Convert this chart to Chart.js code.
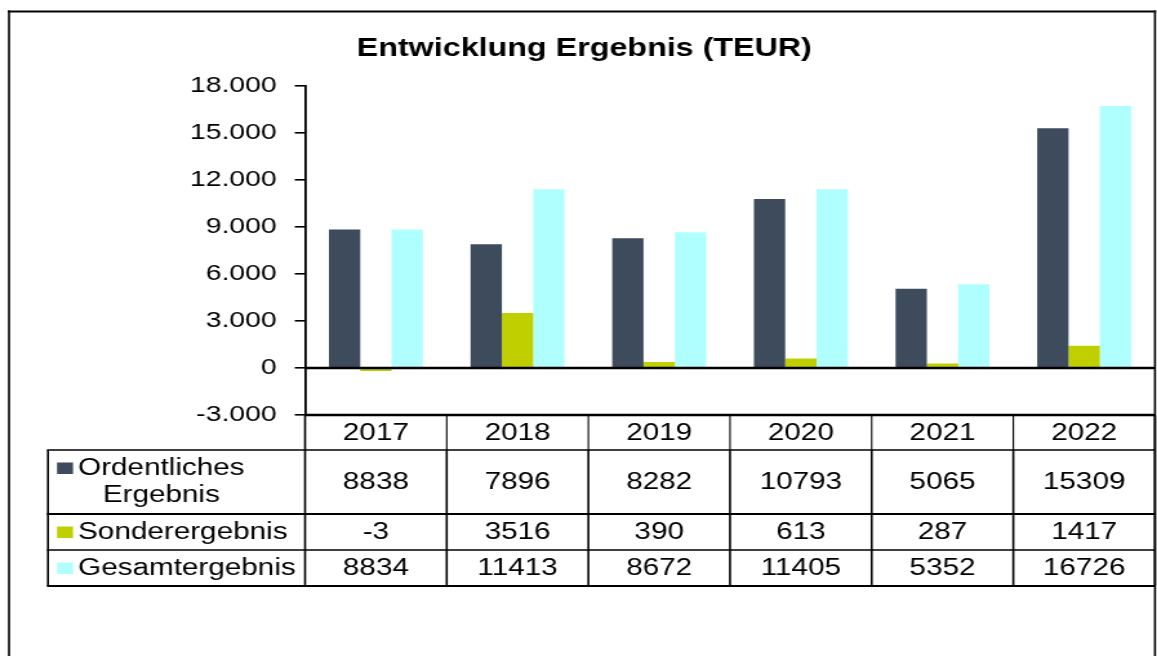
<!DOCTYPE html>
<html>
<head>
<meta charset="utf-8">
<script src="https://cdn.jsdelivr.net/npm/chart.js@4.4.1/dist/chart.umd.min.js"></script>
<style>
  html, body { margin: 0; padding: 0; background: #fff; overflow: hidden; }
  /* the reference is stretched horizontally, so the chart is drawn narrow and scaled */
  #wrap { width: 897px; height: 656px; transform: scaleX(1.2899); transform-origin: 0 0; }
</style>
</head>
<body>
<div id="wrap"><canvas id="ergebnisChart"></canvas></div>
<script>
const chartTitle = 'Entwicklung Ergebnis (TEUR)';
const years = ['2017', '2018', '2019', '2020', '2021', '2022'];
const ordentlich = [8838, 7896, 8282, 10793, 5065, 15309];
const sonder = [-3, 3516, 390, 613, 287, 1417];
const gesamt = [8834, 11413, 8672, 11405, 5352, 16726];
const seriesLabels = [['Ordentliches', 'Ergebnis'], ['Sonderergebnis'], ['Gesamtergebnis']];
const seriesColors = ['#3d4b5c', '#c0cf00', '#b0ffff'];
const yMin = -3000;
const yMax = 18000;
const yStep = 3000;

const FONT = "'Liberation Sans', Arial, sans-serif";

function formatDe(v) {
  const s = String(Math.abs(v)).replace(/\B(?=(\d{3})+(?!\d))/g, '.');
  return (v < 0 ? '-' : '') + s;
}

function hLine(ctx, x1, x2, y, w) {
  ctx.beginPath();
  ctx.lineWidth = w;
  ctx.moveTo(x1, y);
  ctx.lineTo(x2, y);
  ctx.stroke();
}

function vLine(ctx, x, y1, y2, w) {
  ctx.beginPath();
  ctx.lineWidth = w;
  ctx.moveTo(x, y1);
  ctx.lineTo(x, y2);
  ctx.stroke();
}

const frameAndTable = {
  id: 'frameAndTable',
  afterDraw(chart) {
    const ctx = chart.ctx;
    const area = chart.chartArea;
    const yScale = chart.scales.y;
    const colW = (area.right - area.left) / years.length;
    const labelLeft = 37.2;
    const rows = [area.bottom, area.bottom + 35, area.bottom + 99, area.bottom + 135, area.bottom + 171];
    const values = [ordentlich, sonder, gesamt];

    ctx.save();
    ctx.strokeStyle = '#000';

    // outer frame
    hLine(ctx, 6, area.right + 0.8, 11.5, 2);
    vLine(ctx, 7, 10.5, chart.height + 5, 1.6);
    vLine(ctx, area.right, 10.5, chart.height + 5, 1.6);

    // zero line and bottom of the plot
    hLine(ctx, area.left, area.right, yScale.getPixelForValue(0), 2.5);
    hLine(ctx, area.left, area.right, area.bottom, 2.5);

    // header row
    for (let i = 0; i <= years.length; i++) {
      const w = (i === 0 || i === years.length) ? 1.6 : 1.1;
      vLine(ctx, area.left + i * colW, area.bottom, rows[1], w);
    }
    hLine(ctx, labelLeft - 0.8, area.right, rows[1], 1.6);
    hLine(ctx, labelLeft - 0.8, area.right, rows[2], 2);
    hLine(ctx, labelLeft - 0.8, area.right, rows[3], 1.6);
    hLine(ctx, labelLeft - 0.8, area.right, rows[4], 2.2);
    vLine(ctx, labelLeft, rows[1], rows[4], 1.6);
    for (let i = 0; i <= years.length; i++) {
      vLine(ctx, area.left + i * colW, rows[1], rows[4], 1.6);
    }

    // title
    ctx.fillStyle = '#000';
    ctx.font = 'bold 25px ' + FONT;
    ctx.textAlign = 'center';
    ctx.textBaseline = 'alphabetic';
    ctx.fillText(chartTitle, 453, 56);

    // table text
    ctx.font = '23px ' + FONT;
    ctx.textBaseline = 'middle';
    years.forEach((yr, i) => {
      ctx.fillText(yr, area.left + (i + 0.5) * colW, (rows[0] + rows[1]) / 2 + 1);
    });
    values.forEach((arr, r) => {
      const cy = (rows[r + 1] + rows[r + 2]) / 2 + 1;
      arr.forEach((v, i) => {
        ctx.fillText(String(v), area.left + (i + 0.5) * colW, cy);
      });
    });

    // row labels with colour keys
    const textX = 60.5;
    seriesLabels.forEach((lines, r) => {
      const cy = (rows[r + 1] + rows[r + 2]) / 2 + 1;
      const firstY = lines.length > 1 ? cy - 14 : cy;
      ctx.fillStyle = seriesColors[r];
      ctx.fillRect(44.2, firstY - 6.5, 12.4, 11.5);
      ctx.fillStyle = '#000';
      ctx.textAlign = 'left';
      ctx.fillText(lines[0], textX, firstY);
      if (lines.length > 1) {
        const w0 = ctx.measureText(lines[0]).width;
        ctx.textAlign = 'center';
        ctx.fillText(lines[1], textX + w0 / 2, firstY + 27);
      }
    });
    ctx.restore();
  }
};

const ctx = document.getElementById('ergebnisChart').getContext('2d');
new Chart(ctx, {
  type: 'bar',
  data: {
    labels: years,
    datasets: [
      { label: 'Ordentliches Ergebnis', data: ordentlich, backgroundColor: seriesColors[0] },
      { label: 'Sonderergebnis', data: sonder, backgroundColor: seriesColors[1] },
      { label: 'Gesamtergebnis', data: gesamt, backgroundColor: seriesColors[2] },
    ],
  },
  options: {
    responsive: true,
    maintainAspectRatio: false,
    animation: false,
    datasets: {
      bar: { barPercentage: 1.0, categoryPercentage: 0.663, minBarLength: 3, borderWidth: 0 },
    },
    layout: { padding: { top: 86, bottom: 241, left: 0, right: 1.6 } },
    scales: {
      x: { display: false },
      y: {
        min: yMin,
        max: yMax,
        ticks: {
          stepSize: yStep,
          color: '#000',
          padding: 14,
          font: { family: FONT, size: 22 },
          callback: (v) => formatDe(v),
        },
        grid: { drawOnChartArea: false, drawTicks: true, tickLength: 8, color: '#000', lineWidth: 1.6 },
        border: { display: true, color: '#000', width: 1.8 },
        afterFit: (s) => { s.width = 236.5; },
      },
    },
    plugins: {
      legend: { display: false },
      tooltip: { enabled: false },
      title: { display: false },
    },
  },
  plugins: [frameAndTable],
});
</script>
</body>
</html>
